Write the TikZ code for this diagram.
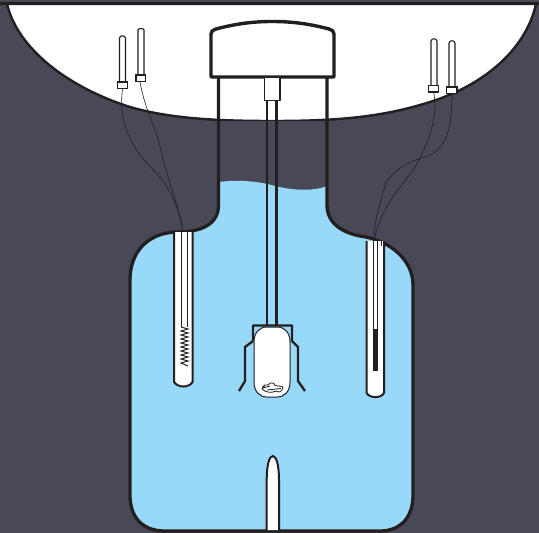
\documentclass[tikz,border=0pt]{standalone}
\definecolor{slatebg}{HTML}{484857}
\definecolor{water}{HTML}{98D9F9}
\definecolor{inkline}{HTML}{231F20}
\tikzset{
  heavy/.style={draw=inkline,line width=3.3pt,line join=round},
  medium/.style={draw=inkline,line width=2.3pt,line join=round},
  thin wire/.style={draw=inkline,line width=0.6pt},
  probe/.style={draw=inkline,line width=1.1pt,fill=white},
}
\begin{document}
\begin{tikzpicture}[x=1pt,y=-1pt]
\useasboundingbox (0,0) rectangle (539,533);
\fill[slatebg] (0,0) rectangle (539,533);
% bowl
\path[fill=white,draw=inkline,line width=2.4pt]
  (7,4) .. controls (18,50) and (70,88) .. (130,107)
  .. controls (165,117) and (205,121) .. (272,121)
  .. controls (345,121) and (385,116) .. (430,102)
  .. controls (490,83) and (527,45) .. (536,4) -- cycle;
\draw[inkline,line width=2.6pt] (0,3.5) -- (539,3.5);
% neck dark interior
\fill[slatebg] (219,121) rectangle (327,190);
% water
\fill[water] (219,182) .. controls (240,179) and (262,182) .. (275,186)
  .. controls (295,191) and (315,191) .. (327,186)
  -- (327,205) .. controls (327,225) and (345,233) .. (360,236)
  .. controls (390,240) and (413,260) .. (413,285)
  -- (413,495) .. controls (413,518) and (400,531) .. (380,531)
  -- (165,531) .. controls (143,531) and (130,518) .. (130,495)
  -- (130,280) .. controls (130,250) and (150,232) .. (178,232)
  .. controls (200,232) and (219,225) .. (219,205) -- cycle;
% vessel outline
\draw[heavy] (218.5,78) -- (218.5,205) .. controls (218.5,225) and (200,232) .. (178,232)
  .. controls (150,232) and (130,250) .. (130,280)
  -- (130,495) .. controls (130,518) and (143,531) .. (165,531)
  -- (380,531) .. controls (400,531) and (413,518) .. (413,495)
  -- (413,285) .. controls (413,260) and (390,240) .. (360,236)
  .. controls (345,233) and (327,225) .. (327,205) -- (327,78);
% lid
\path[fill=white,heavy,line width=3.4pt] (211,77) -- (211,34) .. controls (211,31) and (213,30) .. (216,29)
  .. controls (235,24) and (252,21.5) .. (272,21.5)
  .. controls (293,21.5) and (310,24) .. (329,29) .. controls (332,30) and (334,31) .. (334,34) -- (334,77) -- cycle;
% stirrer shaft and coupling
\draw[medium] (266.8,100) -- (266.8,326);
\draw[medium] (276.5,100) -- (276.5,326);
\draw[medium,line width=1.8pt,fill=white] (264.5,78) -- (264.5,100.5) -- (280,100.5) -- (280,78);
% paddle holder
\draw[medium] (253,341) -- (253,325.5) -- (292,325.5) -- (292,341) -- (298,347) -- (298,381) -- (305,391);
\draw[medium] (253,341) -- (245,347) -- (245,381) -- (239,391);
\path[fill=white,draw=black!60!slatebg,line width=1pt] (272,327) -- (277,327) .. controls (285,327) and (290,333) .. (290,342)
  -- (290,382) .. controls (290,391) and (285,397) .. (277,397) -- (267,397)
  .. controls (259,397) and (254,391) .. (254,382) -- (254,342) .. controls (254,333) and (259,327) .. (267,327) -- cycle;
% paddle blob
\draw[inkline,line width=0.8pt,line join=round] (262,389) .. controls (263,385) and (266,384) .. (268,385)
  .. controls (270,382) and (274,382) .. (275,385.5) .. controls (278,386) and (281,386) .. (283,387)
  .. controls (282,392) and (279,393) .. (276,391) .. controls (272,393) and (266,393) .. (262,389) -- cycle
  (263,388) -- (270,386) (267,390) -- (281,388.5) (265,385) -- (263,388);
% left probe tube
\path[fill=white,draw=inkline,line width=2pt] (174,232) -- (174,382) .. controls (178,388) and (189,388) .. (192.5,382) -- (192.5,232);
\draw[inkline,line width=0.9pt] (181,232) -- (181,327) (187,232) -- (187,327);
\draw[inkline,line width=1pt,line join=miter] (181,327) -- (188,329) -- (181,331) -- (188,333) -- (181,335) -- (188,337) -- (181,339) -- (188,341) -- (181,343) -- (188,345) -- (181,347) -- (188,349) -- (181,351) -- (188,353) -- (181,355) -- (188,357) -- (181,359) -- (188,361) -- (181,363) -- (188,366);
% right probe tube
\path[fill=white,draw=inkline,line width=2pt] (366.5,241) -- (366.5,393) .. controls (370,398.5) and (381,398.5) .. (384,393) -- (384,241);
\draw[inkline,line width=1pt] (373.3,241) -- (373.3,330) (377.3,241) -- (377.3,330);
\draw[inkline,line width=0.8pt] (381,241) -- (381,246);
\fill[inkline] (372.8,329) rectangle (377.8,371);
% bottom spike
\path[fill=white,draw=inkline,line width=2pt] (266.7,530) -- (266.7,480) .. controls (266.7,466) and (269,456) .. (272.8,456)
  .. controls (276.6,456) and (279,466) .. (279,480) -- (279,530);
% wires left
\draw[thin wire] (122.5,89) .. controls (120,110) and (122,130) .. (140,155) .. controls (155,175) and (170,178) .. (182,225) -- (182,232);
\draw[thin wire] (140,82) .. controls (145,110) and (155,125) .. (161,150) .. controls (167,178) and (178,205) .. (182,225);
% wires right
\draw[thin wire] (433.5,92) .. controls (438,110) and (432,135) .. (419,160) .. controls (410,180) and (385,195) .. (374,240);
\draw[thin wire] (452,93) .. controls (452,125) and (448,150) .. (425,157) .. controls (405,163) and (395,170) .. (386,182) .. controls (380,205) and (374,220) .. (374,240);
% sensors left
\path[probe] (119.5,82) -- (119.5,38) .. controls (120,35) and (125,35) .. (125.5,38) -- (125.5,82);
\path[probe] (117.5,82) rectangle (127.5,88.5);
\path[probe] (138,75) -- (138,30) .. controls (138.5,28) and (143.5,28) .. (144,30) -- (144,75);
\path[probe] (136,75) rectangle (145.5,81.5);
% sensors right
\path[probe] (431,85) -- (431,41) .. controls (431.5,38) and (436.5,38) .. (437,41) -- (437,85);
\path[probe] (428.5,85.5) rectangle (438.5,92);
\path[probe] (449,87) -- (449,43) .. controls (449.5,40) and (454.5,40) .. (455,43) -- (455,87);
\path[probe] (446.5,87) rectangle (457,93.5);
\end{tikzpicture}
\end{document}
